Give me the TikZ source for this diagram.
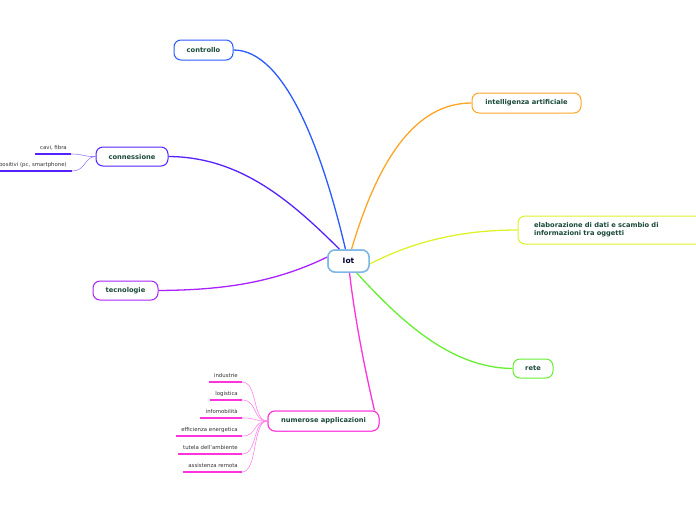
\documentclass[tikz,border=0pt]{standalone}
\usepackage{fontspec}
\setmainfont{DejaVu Sans}
\definecolor{txtgreen}{HTML}{1B4A3A}
\definecolor{cctrl}{HTML}{2A5BFF}
\definecolor{cia}{HTML}{FFA525}
\definecolor{celab}{HTML}{DDF22A}
\definecolor{crete}{HTML}{66EE33}
\definecolor{cnum}{HTML}{FF33DD}
\definecolor{ctec}{HTML}{AA22FF}
\definecolor{ccon}{HTML}{5522FF}
\definecolor{ciot}{HTML}{7FB8E6}
\definecolor{subtxt}{HTML}{333333}
\tikzset{
  topic/.style={draw, line width=1pt, rounded corners=7pt, fill=white, text=txtgreen,
    font=\bfseries\fontsize{6.7}{8}\selectfont, inner sep=0pt, align=center},
  iotbox/.style={topic, draw=ciot, line width=1.5pt, text=black!80!blue,
    font=\bfseries\fontsize{7.5}{9}\selectfont, minimum width=41pt, minimum height=22pt},
  numbox/.style={topic, draw=cnum, minimum width=111pt, minimum height=20pt},
  branch/.style={line width=1.3pt},
  leaf/.style={font=\fontsize{5.4}{6.5}\selectfont, text=subtxt, inner sep=0pt, anchor=base east},
  uline/.style={line width=1.3pt},
  twig/.style={line width=0.6pt}
}
\begin{document}
\begin{tikzpicture}[x=1pt,y=-1pt]
\useasboundingbox (0,0) rectangle (696,520);
\clip (0,0) rectangle (696,520);
% main nodes
\node[iotbox] (iot) at (348.5,261) {Iot};
\node[topic, draw=cctrl, minimum width=59pt, minimum height=20pt] (ctrl) at (203.5,50) {controllo};
\node[topic, draw=cia, minimum width=109pt, minimum height=20pt] (ia) at (526.5,103) {intelligenza artificiale};
\node[topic, draw=celab, minimum width=190pt, minimum height=28pt, text width=158pt, align=left, inner xsep=0pt] (elab) at (613,230) {elaborazione di dati e scambio di\\informazioni tra oggetti};
\node[topic, draw=crete, minimum width=40pt, minimum height=19pt] (rete) at (533,368.5) {rete};
\node[numbox] (num) at (323.5,421) {numerose applicazioni};
\node[topic, draw=ctec, minimum width=65pt, minimum height=19pt] (tec) at (125.5,290.5) {tecnologie};
\node[topic, draw=ccon, minimum width=72pt, minimum height=19pt] (con) at (132,156.5) {connessione};
% branches
\draw[branch, cctrl] (ctrl.east) .. controls (285,50) and (322,150) .. ([xshift=-3pt]iot.north);
\draw[branch, cia] (ia.west) .. controls (415,103) and (378,160) .. ([xshift=3pt]iot.north);
\draw[branch, celab] (elab.west) .. controls (470,230) and (420,238) .. ([yshift=-3pt]iot.east);
\draw[branch, crete] (rete.west) .. controls (450,368) and (400,320) .. ([xshift=8pt]iot.south);
\draw[branch, cnum] ([xshift=-5pt]num.north east) .. controls (365,370) and (355,320) .. ([xshift=1pt]iot.south);
\draw[branch, ctec] (tec.east) .. controls (215,290) and (270,285) .. ([yshift=4pt]iot.west);
\draw[branch, ccon] (con.east) .. controls (240,157) and (290,200) .. ([xshift=-9pt]iot.north);
% redraw boxes over branch ends
\node[iotbox] at (iot) {Iot};
\node[numbox] at (num) {numerose applicazioni};
% connessione leaves
\node[leaf] (cavi) at (67,149.5) {cavi, fibra};
\node[leaf] (disp) at (67,166.5) {dispositivi (pc, smartphone)};
\coordinate (caviA) at (35,154); \coordinate (caviB) at (71,154);
\coordinate (dispA) at (0,171); \coordinate (dispB) at (72,171);
\draw[uline, ccon] (caviA) -- (caviB);
\draw[uline, ccon] (dispA) -- (dispB);
\draw[twig, ccon!60] (caviB) .. controls (84,154) and (84,157) .. (con.west);
\draw[twig, ccon!60] (dispB) .. controls (86,171) and (84,157) .. (con.west);
% numerose leaves
\foreach \name/\txt/\y/\xl in {ind/industrie/382/209, log/logistica/400/210, info/infomobilità/418/200, eff/efficienza energetica/436/176, tut/tutela dell'ambiente/454/178, ass/assistenza remota/472/183}{
  \node[leaf] (\name) at (238,\y-4.5) {\txt};
  \coordinate (\name A) at (\xl,\y);
  \coordinate (\name B) at (242,\y);
  \draw[uline, cnum] (\name A) -- (\name B);
  \draw[twig, cnum!60] (\name B) .. controls (258,\y) and (252,421) .. (num.west);
}
\end{tikzpicture}
\end{document}
